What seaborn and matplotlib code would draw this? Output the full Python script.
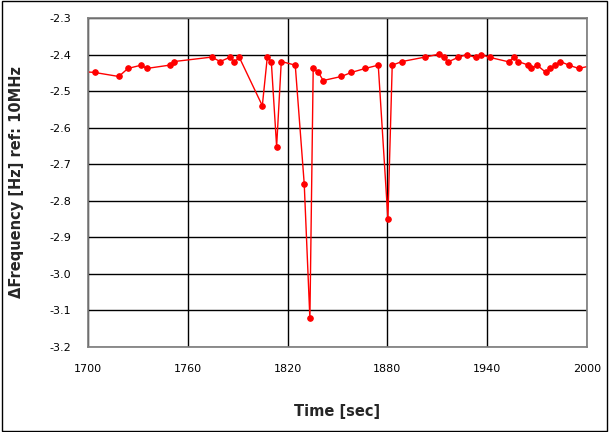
import matplotlib.pyplot as plt
import numpy as np
import seaborn as sns
from matplotlib.patches import Rectangle

sns.set_theme(style="white")

time = [1698, 1704, 1718.5, 1724, 1732, 1735.3, 1749, 1752, 1774.3, 1779.5, 1785.5, 1788, 1791,
        1804.8, 1807.8, 1810.2, 1813.4, 1816.2, 1824.6, 1830, 1833.4, 1835.4, 1838.4, 1841.4,
        1852.3, 1858.3, 1866.7, 1874.5, 1880.3, 1882.9, 1888.9, 1902.5, 1910.9, 1914.1, 1916.5,
        1922.4, 1927.6, 1933, 1936.4, 1941.8, 1953, 1956, 1958.6, 1964.8, 1966.6, 1970, 1975.3,
        1978, 1980.9, 1983.9, 1989.1, 1995, 2003]
dfreq = [-2.447, -2.449, -2.460, -2.438, -2.429, -2.438, -2.429, -2.419, -2.407, -2.419, -2.407,
         -2.420, -2.408, -2.540, -2.407, -2.419, -2.652, -2.419, -2.429, -2.754, -3.122, -2.437,
         -2.448, -2.471, -2.460, -2.449, -2.438, -2.429, -2.849, -2.429, -2.419, -2.407, -2.399,
         -2.408, -2.420, -2.408, -2.400, -2.408, -2.400, -2.408, -2.420, -2.407, -2.419, -2.429,
         -2.438, -2.429, -2.449, -2.438, -2.429, -2.419, -2.429, -2.438, -2.430]

fig = plt.figure(figsize=(6.09, 4.32), dpi=100)
ax = fig.add_axes([88 / 609, 1 - 347 / 432, 499 / 609, 329 / 432])

n = len(time)
sns.lineplot(x=time, y=dfreq, ax=ax, color='red', lw=1, marker='o', markersize=4,
             markeredgecolor='red', markevery=list(range(1, n - 1)), sort=False)

ax.set_xlim(1700, 2000)
ax.set_ylim(-3.2, -2.3)
ax.set_xticks(np.arange(1700, 2001, 60))
ax.set_yticks(np.arange(-3.2, -2.29, 0.1))
ax.set_yticklabels([f'{v:.1f}' for v in np.arange(-3.2, -2.29, 0.1)])
ax.grid(True, color='black', lw=1)
for s in ax.spines.values():
    s.set_color('#808080')
ax.tick_params(labelsize=8, colors='black', pad=6)
ax.set_xlabel('Time [sec]', fontsize=10.5, fontweight='bold', labelpad=22)
ax.set_ylabel('ΔFrequency [Hz] ref: 10MHz', fontsize=10.5, fontweight='bold', labelpad=18)

fig.patches.append(Rectangle((0.003, 0.003), 0.994, 0.994, transform=fig.transFigure,
                             fill=False, edgecolor='black', lw=1))
fig.savefig('out.png', dpi=100)
